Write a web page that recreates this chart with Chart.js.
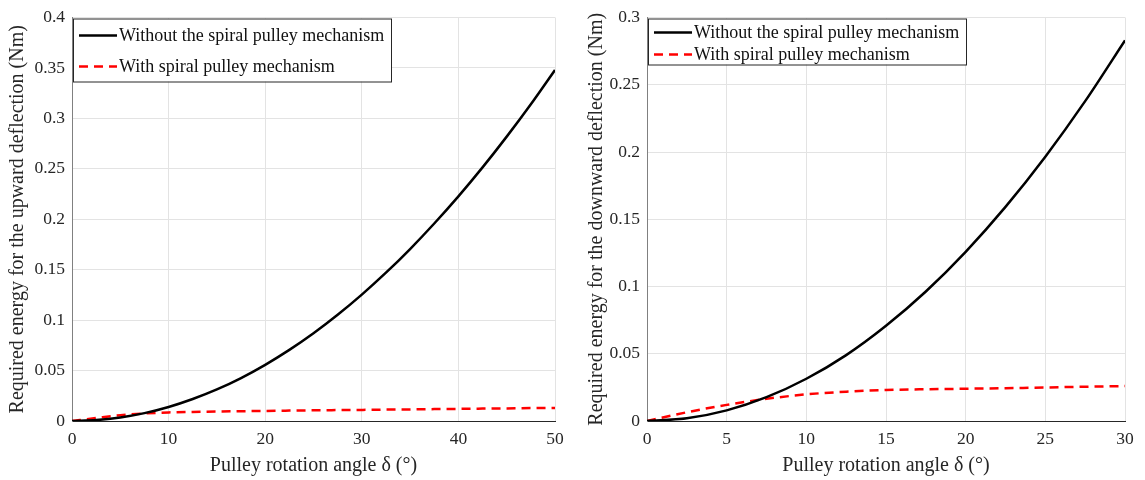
<!DOCTYPE html>
<html>
<head>
<meta charset="utf-8">
<script src="https://cdn.jsdelivr.net/npm/chart.js@4/dist/chart.umd.min.js"></script>
<style>
  html, body { margin: 0; padding: 0; background: #fff; }
  #wrap { position: relative; width: 1145px; height: 480px; }
  .box { position: absolute; top: 0; height: 480px; }
  #leftBox { left: 0; width: 575px; }
  #rightBox { left: 575px; width: 570px; }
</style>
</head>
<body>
<div id="wrap">
  <div class="box" id="leftBox"><canvas id="upChart"></canvas></div>
  <div class="box" id="rightBox"><canvas id="downChart"></canvas></div>
</div>
<script>
// Series labels
const seriesLabels = ['Without the spiral pulley mechanism', 'With spiral pulley mechanism'];

// Upward deflection (left plot)
const upAngles = [0, 2.5, 5, 7.5, 10, 12.5, 15, 17.5, 20, 22.5, 25, 27.5, 30, 32.5, 35, 37.5, 40, 42.5, 45, 47.5, 50];
const upWithout = [0, 0.0009, 0.0035, 0.0078, 0.0139, 0.0218, 0.0313, 0.0426, 0.0557, 0.0705, 0.087, 0.1053, 0.1253, 0.147, 0.1705, 0.1958, 0.2227, 0.2514, 0.2819, 0.314, 0.348];
const upWith = [0, 0.003, 0.0058, 0.0075, 0.0085, 0.009, 0.0094, 0.0097, 0.01, 0.0103, 0.0106, 0.0108, 0.011, 0.0113, 0.0115, 0.0118, 0.012, 0.0123, 0.0125, 0.0128, 0.013];

// Downward deflection (right plot)
const downAngles = [0, 2.5, 5, 7.5, 10, 12.5, 15, 17.5, 20, 22.5, 25, 27.5, 30];
const downWithout = [0, 0.002, 0.0079, 0.0177, 0.0314, 0.049, 0.0708, 0.0963, 0.1258, 0.1592, 0.1965, 0.2378, 0.283];
const downWith = [0, 0.0065, 0.012, 0.0165, 0.0198, 0.0218, 0.023, 0.0236, 0.024, 0.0244, 0.0249, 0.0255, 0.026];

const FONT = '"Liberation Serif", "Times New Roman", serif';

// Legend box drawn inside the plot area (MATLAB style)
const insideLegend = {
    id: 'insideLegend',
    afterDraw(chart, args, opts) {
        const ctx = chart.ctx;
        const area = chart.chartArea;
        const x = area.left + 1, y = area.top + 1;
        ctx.save();
        ctx.fillStyle = '#fff';
        ctx.fillRect(x, y, opts.width, opts.height);
        ctx.strokeStyle = '#262626';
        ctx.lineWidth = 1;
        ctx.strokeRect(x + 0.5, y + 0.5, opts.width, opts.height);
        ctx.font = '18px ' + FONT;
        ctx.textBaseline = 'middle';
        chart.data.datasets.forEach((ds, i) => {
            const rowY = y + opts.rows[i];
            ctx.strokeStyle = ds.borderColor;
            ctx.lineWidth = 2.5;
            ctx.setLineDash(ds.borderDash || []);
            ctx.beginPath();
            ctx.moveTo(x + 6, rowY);
            ctx.lineTo(x + 44, rowY);
            ctx.stroke();
            ctx.setLineDash([]);
            ctx.fillStyle = '#111';
            ctx.fillText(ds.label, x + 46, rowY + 1);
        });
        ctx.restore();
    }
};

function makeChart(canvasId, angles, without, withMech, xMax, xStep, yMax, yTitle, titlePad, legendOpts) {
    const ctx = document.getElementById(canvasId).getContext('2d');
    return new Chart(ctx, {
        type: 'line',
        data: {
            datasets: [{
                label: seriesLabels[0],
                data: angles.map((a, i) => ({ x: a, y: without[i] })),
                borderColor: '#000000',
                borderWidth: 2.5,
                pointRadius: 0,
                cubicInterpolationMode: 'monotone',
                fill: false
            }, {
                label: seriesLabels[1],
                data: angles.map((a, i) => ({ x: a, y: withMech[i] })),
                borderColor: '#ff0000',
                borderWidth: 2.5,
                borderDash: [9, 6],
                pointRadius: 0,
                cubicInterpolationMode: 'monotone',
                fill: false
            }]
        },
        options: {
            responsive: true,
            maintainAspectRatio: false,
            animation: false,
            layout: { padding: { top: 10, right: 20, left: 0, bottom: 0 } },
            plugins: {
                legend: { display: false },
                tooltip: { enabled: false },
                insideLegend: legendOpts
            },
            scales: {
                x: {
                    type: 'linear',
                    min: 0,
                    max: xMax,
                    ticks: {
                        stepSize: xStep,
                        color: '#262626',
                        font: { family: FONT, size: 17.5 },
                        padding: 8
                    },
                    grid: { color: '#e3e3e3', tickLength: 0 },
                    border: { color: '#262626', width: 1 },
                    title: {
                        display: true,
                        text: 'Pulley rotation angle δ (°)',
                        color: '#262626',
                        font: { family: FONT, size: 20 },
                        padding: { top: 2, bottom: 2 }
                    },
                    afterFit(scale) { scale.height = 59; }
                },
                y: {
                    min: 0,
                    max: yMax,
                    ticks: {
                        stepSize: 0.05,
                        color: '#262626',
                        font: { family: FONT, size: 17.5 },
                        padding: 7,
                        callback: v => String(Number(v.toFixed(3)))
                    },
                    grid: { color: '#e3e3e3', tickLength: 0 },
                    border: { color: '#808080', width: 1 },
                    title: {
                        display: true,
                        text: yTitle,
                        color: '#262626',
                        font: { family: FONT, size: 20 },
                        padding: { top: titlePad, bottom: 2 }
                    },
                    afterFit(scale) { scale.width = 72; }
                }
            }
        },
        plugins: [insideLegend]
    });
}

makeChart('upChart', upAngles, upWithout, upWith, 50, 10, 0.4,
    'Required energy for the upward deflection (Nm)', 6,
    { width: 318, height: 63, rows: [17, 48] });

makeChart('downChart', downAngles, downWithout, downWith, 30, 5, 0.3,
    'Required energy for the downward deflection (Nm)', 10,
    { width: 318, height: 46, rows: [14, 36] });
</script>
</body>
</html>
